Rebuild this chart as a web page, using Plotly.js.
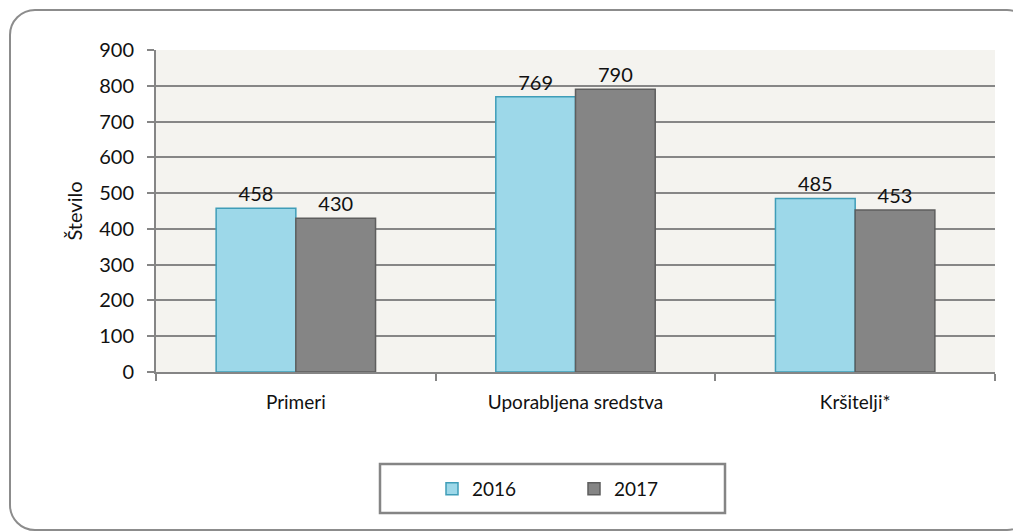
<!DOCTYPE html>
<html>
<head>
<meta charset="utf-8">
<script src="https://cdn.plot.ly/plotly-3.0.1.min.js"></script>
<style>
  html, body { margin: 0; padding: 0; background: #ffffff; }
  #wrap { position: relative; width: 1013px; height: 531px; overflow: hidden; }
  #frame { position: absolute; left: 9px; top: 9px; width: 1020px; height: 518px;
           border: 2px solid #8c8c8c; border-radius: 26px; }
  #chart { position: absolute; left: 0; top: 0; width: 1013px; height: 531px; }
</style>
</head>
<body>
<div id="wrap">
  <div id="frame"></div>
  <div id="chart"></div>
</div>
<script>
const categories = ["Primeri", "Uporabljena sredstva", "Kršitelji*"];
const seriesNames = ["2016", "2017"];
const values2016 = [458, 769, 485];
const values2017 = [430, 790, 453];
const yTicks = [0, 100, 200, 300, 400, 500, 600, 700, 800, 900];

const FONT = "Lato, 'Open Sans', sans-serif";

const L = 156, R = 995, T = 50, B = 372, W = 1013, H = 531;
const px = x => (x - L) / (R - L);
const py = y => (B - y) / (B - T);

const traces = [
  {
    type: "bar", name: seriesNames[0], x: categories, y: values2016,
    text: values2016.map(String), textposition: "outside", cliponaxis: false,
    textfont: {family: FONT, size: 20, color: "#111"},
    marker: {color: "#9dd8e9", line: {color: "#3f9db8", width: 1.5}}
  },
  {
    type: "bar", name: seriesNames[1], x: categories, y: values2017,
    text: values2017.map(String), textposition: "outside", cliponaxis: false,
    textfont: {family: FONT, size: 20, color: "#111"},
    marker: {color: "#858585", line: {color: "#5e5e5e", width: 1.5}}
  }
];

const layout = {
  width: W, height: H,
  margin: {l: L, r: W - R, t: T, b: H - B},
  paper_bgcolor: "rgba(0,0,0,0)",
  plot_bgcolor: "#f4f3ef",
  barmode: "group", bargap: 0.43, bargroupgap: 0,
  font: {family: FONT, size: 19, color: "#111"},
  showlegend: true,
  legend: {
    orientation: "h", x: px(432), xanchor: "left", y: py(489), yanchor: "middle",
    bgcolor: "rgba(0,0,0,0)", borderwidth: 0, entrywidth: 97,
    font: {family: FONT, size: 19, color: "#111"}
  },
  xaxis: {
    type: "category", showgrid: false, zeroline: false,
    showline: true, linecolor: "#858585", linewidth: 2,
    ticks: "outside", tickson: "boundaries", ticklen: 7, tickwidth: 2, tickcolor: "#858585",
    tickfont: {family: FONT, size: 19, color: "#111"}, ticklabelstandoff: 12,
    fixedrange: true
  },
  yaxis: {
    range: [0, 900], tickvals: yTicks, ticktext: yTicks.map(String),
    showgrid: true, gridcolor: "#868686", gridwidth: 2, zeroline: false,
    showline: true, linecolor: "#858585", linewidth: 2,
    ticks: "outside", ticklen: 7, tickwidth: 2, tickcolor: "#858585",
    tickfont: {family: FONT, size: 20, color: "#111"}, ticklabelstandoff: 9,
    title: {text: "Število", font: {family: FONT, size: 20, color: "#111"}, standoff: 11},
    fixedrange: true
  },
  shapes: [
    {type: "rect", xref: "paper", yref: "paper",
     x0: px(380), x1: px(725), y0: py(513), y1: py(464),
     line: {color: "#858585", width: 2.5}, fillcolor: "rgba(0,0,0,0)"}
  ]
};

Plotly.newPlot("chart", traces, layout, {displayModeBar: false, staticPlot: true});
</script>
</body>
</html>
